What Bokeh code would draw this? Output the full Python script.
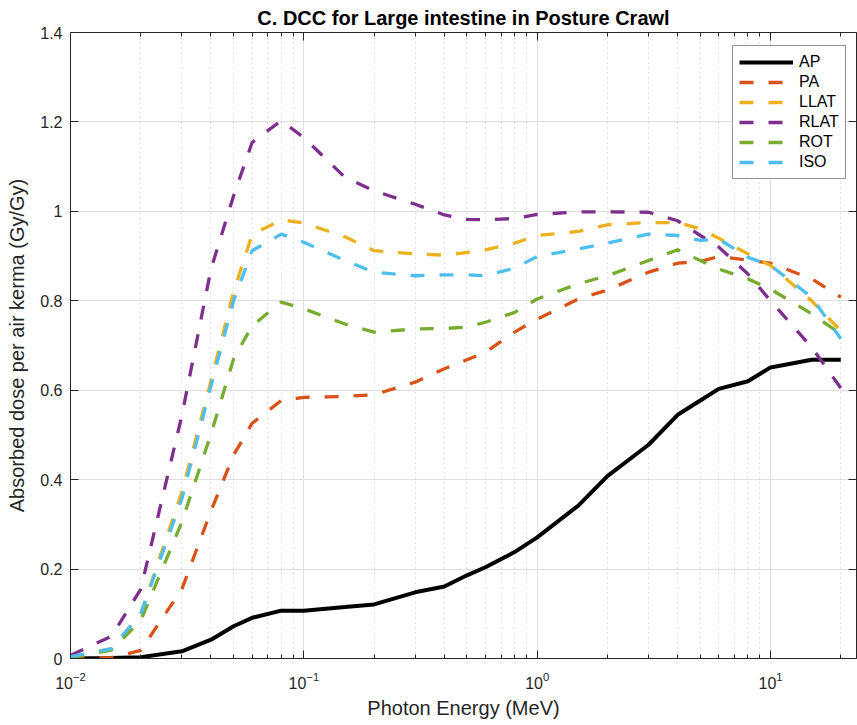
from bokeh.plotting import figure
from bokeh.models import (Range1d, FixedTicker, LogAxis, LinearAxis, Legend, LegendItem,
                          CustomJSTickFormatter, LogTickFormatter)
from bokeh.embed import file_html
from bokeh.resources import INLINE

# ---------------- data ----------------
energy = [0.01, 0.015, 0.02, 0.03, 0.04, 0.05, 0.06, 0.08, 0.1, 0.15, 0.2, 0.3, 0.4,
          0.5, 0.6, 0.8, 1, 1.5, 2, 3, 4, 5, 6, 8, 10, 15, 20]

ap = [0.0, 0.001, 0.003, 0.016, 0.042, 0.072, 0.091, 0.107, 0.107, 0.115, 0.121, 0.148,
      0.161, 0.186, 0.204, 0.238, 0.271, 0.342, 0.408, 0.478, 0.545, 0.577, 0.603, 0.620,
      0.651, 0.668, 0.668]
pa = [0.0, 0.002, 0.018, 0.155, 0.330, 0.455, 0.526, 0.577, 0.584, 0.586, 0.590, 0.618,
      0.648, 0.668, 0.685, 0.730, 0.759, 0.804, 0.824, 0.864, 0.884, 0.888, 0.899, 0.891,
      0.884, 0.849, 0.808]
llat = [0.003, 0.022, 0.100, 0.372, 0.621, 0.820, 0.948, 0.981, 0.974, 0.943, 0.912, 0.905,
        0.902, 0.908, 0.914, 0.929, 0.946, 0.955, 0.970, 0.975, 0.975, 0.961, 0.940, 0.905,
        0.879, 0.800, 0.733]
rlat = [0.007, 0.050, 0.155, 0.543, 0.871, 1.035, 1.154, 1.203, 1.165, 1.076, 1.046, 1.016,
        0.992, 0.982, 0.981, 0.984, 0.993, 0.999, 0.999, 0.998, 0.979, 0.946, 0.920, 0.860,
        0.800, 0.696, 0.605]
rot = [0.002, 0.019, 0.085, 0.305, 0.502, 0.670, 0.744, 0.797, 0.782, 0.748, 0.730, 0.737,
       0.738, 0.741, 0.752, 0.774, 0.804, 0.838, 0.856, 0.890, 0.914, 0.890, 0.871, 0.849,
       0.826, 0.771, 0.726]
iso = [0.004, 0.022, 0.100, 0.357, 0.610, 0.800, 0.912, 0.949, 0.931, 0.890, 0.864, 0.856,
       0.858, 0.858, 0.856, 0.873, 0.899, 0.916, 0.929, 0.949, 0.946, 0.935, 0.938, 0.897,
       0.879, 0.808, 0.715]

series_names = ["AP", "PA", "LLAT", "RLAT", "ROT", "ISO"]
series_values = [ap, pa, llat, rlat, rot, iso]
series_colors = ["#000000", "#D95319", "#EDB120", "#7E2F8E", "#77AC30", "#4DBEEE"]

xtick_vals = [0.01, 0.1, 1, 10]
ytick_vals = [0, 0.2, 0.4, 0.6, 0.8, 1.0, 1.2, 1.4]

title_text = "C. DCC for Large intestine in Posture Crawl"
xlabel = "Photon Energy (MeV)"
ylabel = "Absorbed dose per air kerma (Gy/Gy)"

# ---------------- styling ----------------
FONT = "Liberation Sans"
AXC = "#262626"
X_END = 10 ** (-2 + 786 / 233.35)

p = figure(width=857, height=725, x_axis_type="log",
           x_range=Range1d(0.01, X_END), y_range=Range1d(0, 1.4),
           output_backend="svg", toolbar_location=None,
           min_border_left=70, min_border_right=1, min_border_top=32, min_border_bottom=67)
p.outline_line_color = None
p.background_fill_color = "white"
p.border_fill_color = "white"

minor = [m * 10 ** k for k in (-2, -1, 0, 1) for m in range(2, 10) if m * 10 ** k <= X_END]
xticker = FixedTicker(ticks=xtick_vals, minor_ticks=minor)
yticker = FixedTicker(ticks=ytick_vals)

def style_axis(ax):
    ax.axis_line_color = AXC
    ax.axis_line_width = 1
    ax.major_tick_line_color = AXC
    ax.minor_tick_line_color = AXC
    ax.major_tick_in = 8
    ax.major_tick_out = 0
    ax.minor_tick_in = 4
    ax.minor_tick_out = 0

def hide_labels(ax):
    ax.major_label_text_font_size = "1px"
    ax.major_label_text_alpha = 0
    ax.major_label_standoff = 0

# bottom axis (10^k labels via LogTickFormatter)
xa = p.xaxis[0]
xa.ticker = xticker
xa.formatter = LogTickFormatter()
style_axis(xa)
xa.major_label_text_font = FONT
xa.major_label_text_font_size = "16px"
xa.major_label_text_color = AXC
xa.major_label_standoff = 13
xa.axis_label = xlabel
xa.axis_label_text_font = FONT
xa.axis_label_text_font_size = "20px"
xa.axis_label_text_font_style = "normal"
xa.axis_label_text_color = AXC
xa.axis_label_standoff = 5

# left axis
ya = p.yaxis[0]
ya.ticker = yticker
style_axis(ya)
ya.minor_tick_line_color = None
ya.formatter = CustomJSTickFormatter(code="return (Math.round(tick*10)/10).toString();")
ya.major_label_text_font = FONT
ya.major_label_text_font_size = "16px"
ya.major_label_text_color = AXC
ya.major_label_standoff = 8
ya.axis_label = ylabel
ya.axis_label_text_font = FONT
ya.axis_label_text_font_size = "20px"
ya.axis_label_text_font_style = "normal"
ya.axis_label_text_color = AXC
ya.axis_label_standoff = 9

# top and right (box)
top = LogAxis(ticker=xticker)
style_axis(top)
hide_labels(top)
p.add_layout(top, "above")
right = LinearAxis(ticker=yticker)
style_axis(right)
hide_labels(right)
right.minor_tick_line_color = None
p.add_layout(right, "right")

# grids
p.xgrid.ticker = xticker
p.xgrid.grid_line_color = "#DFDFDF"
p.xgrid.minor_grid_line_color = "#C4C4C4"
p.xgrid.minor_grid_line_dash = "1 4"
p.ygrid.ticker = yticker
p.ygrid.grid_line_color = "#DFDFDF"

# title
p.title.text = title_text
p.title.align = "center"
p.title.text_font = FONT
p.title.text_font_size = "20px"
p.title.text_font_style = "bold"
p.title.text_color = "#000000"
p.title.standoff = 8

# lines
items = []
for name, vals, col in zip(series_names, series_values, series_colors):
    if name == "AP":
        r = p.line(energy, vals, line_color=col, line_width=4)
    else:
        r = p.line(energy, vals, line_color=col, line_width=3.3, line_dash="14 15")
    items.append(LegendItem(label=name, renderers=[r]))

legend = Legend(items=items, location=(662, 479), orientation="vertical",
                label_text_font=FONT, label_text_font_size="16px", label_text_color="#000000",
                glyph_width=54, glyph_height=20, label_height=20, spacing=0, padding=6,
                margin=0, label_standoff=6, border_line_color=AXC, border_line_width=1,
                background_fill_color="white", background_fill_alpha=1)
p.add_layout(legend)

open("out.html", "w").write(file_html(p, INLINE))
